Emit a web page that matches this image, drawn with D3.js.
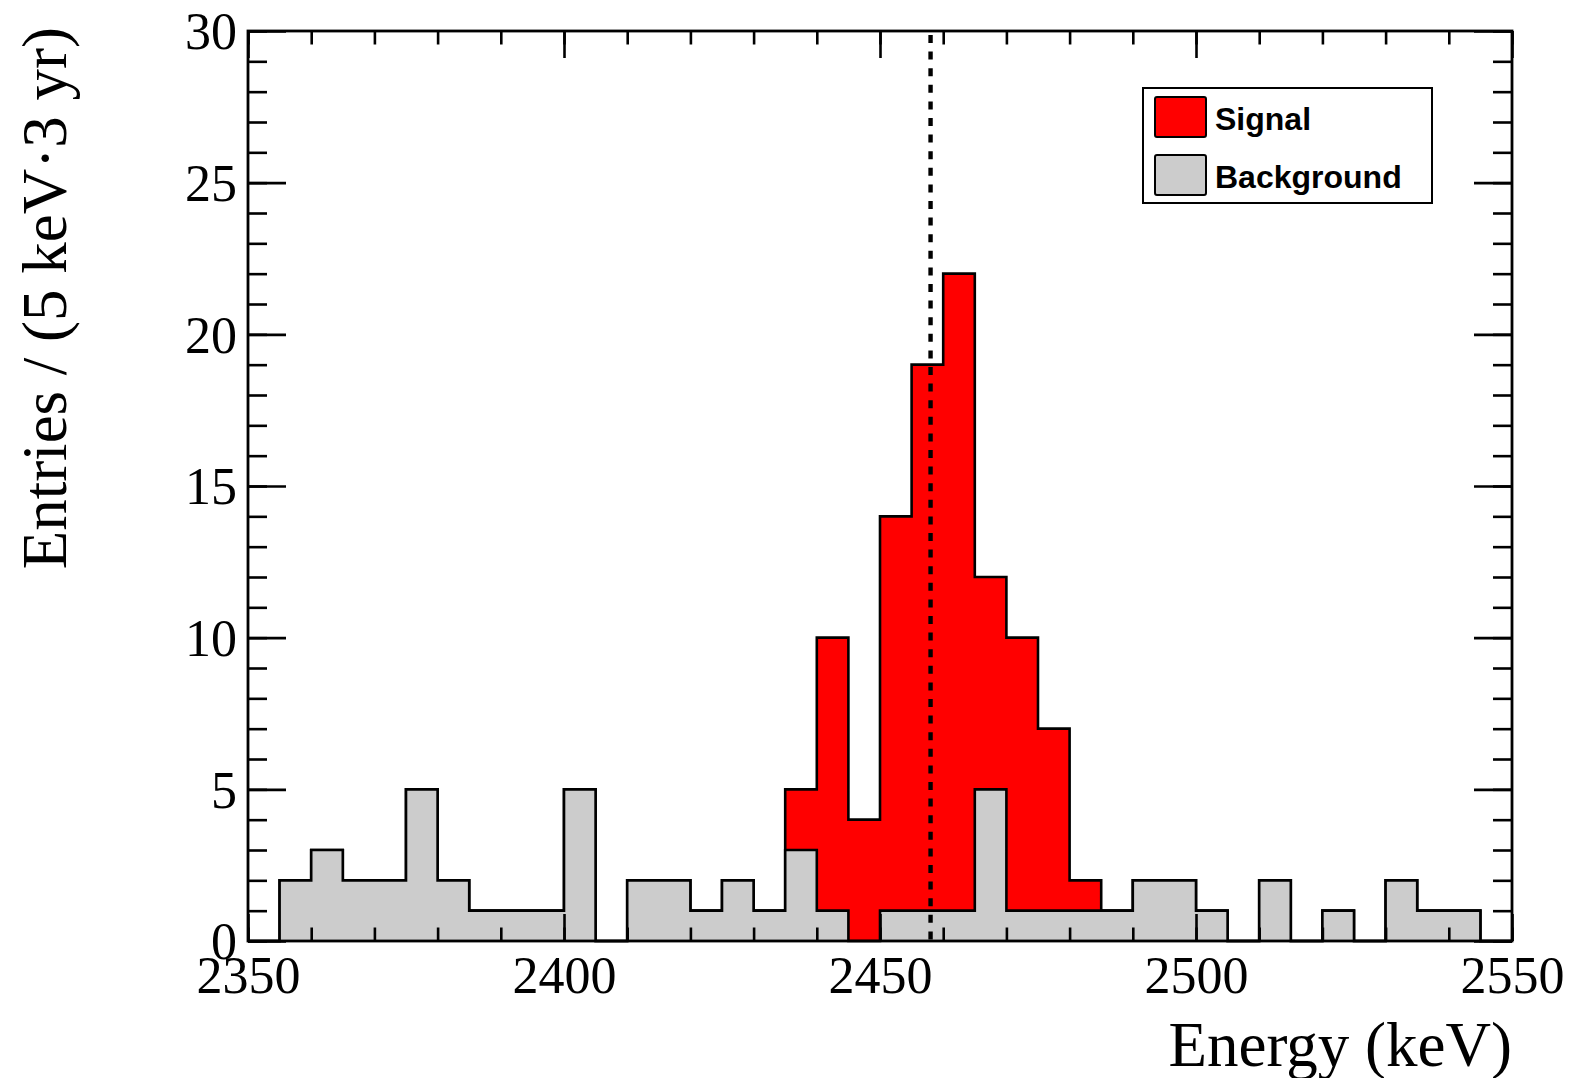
<!DOCTYPE html>
<html>
<head>
<meta charset="utf-8">
<script src="https://cdn.jsdelivr.net/npm/d3@7"></script>
<style>
  html, body { margin: 0; padding: 0; background: #fff; }
  svg { display: block; }
</style>
</head>
<body>
<svg id="chart" width="1569" height="1078"></svg>
<script>
// Lower edges of the 5 keV energy bins (keV)
const binLow = [2350, 2355, 2360, 2365, 2370, 2375, 2380, 2385, 2390, 2395,
                2400, 2405, 2410, 2415, 2420, 2425, 2430, 2435, 2440, 2445,
                2450, 2455, 2460, 2465, 2470, 2475, 2480, 2485, 2490, 2495,
                2500, 2505, 2510, 2515, 2520, 2525, 2530, 2535, 2540, 2545];
const binWidth = 5;

// Entries per bin
const background = [0, 2, 3, 2, 2, 5, 2, 1, 1, 1,
                    5, 0, 2, 2, 1, 2, 1, 3, 1, 0,
                    1, 1, 1, 5, 1, 1, 1, 1, 2, 2,
                    1, 0, 2, 0, 1, 0, 2, 1, 1, 0];
const signal     = [0, 0, 0, 0, 0, 0, 0, 0, 0, 0,
                    0, 0, 0, 0, 0, 0, 0, 2, 9, 4,
                    13, 18, 21, 7, 9, 6, 1, 0, 0, 0,
                    0, 0, 0, 0, 0, 0, 0, 0, 0, 0];

const qValue = 2458;            // dashed reference line (keV)
const xTicks = [2350, 2400, 2450, 2500, 2550];
const yTicks = [0, 5, 10, 15, 20, 25, 30];
const legendItems = [
  { label: "Signal", color: "#ff0000" },
  { label: "Background", color: "#cccccc" }
];

const svg = d3.select("#chart");
const L = 248, R = 1512, T = 31, B = 941;

const x = d3.scaleLinear().domain([2350, 2550]).range([L, R]);
const y = d3.scaleLinear().domain([0, 30]).range([B, T]);

// Step outline points for a histogram
function steps(values) {
  const pts = [];
  binLow.forEach((lo, i) => {
    pts.push({ e: lo, v: values[i] });
    pts.push({ e: lo + binWidth, v: values[i] });
  });
  return pts;
}

const total = background.map((b, i) => b + signal[i]);

const area = d3.area().x(d => x(d.e)).y0(y(0)).y1(d => y(d.v));
const line = d3.line().x(d => x(d.e)).y(d => y(d.v));

const hist = svg.append("g");
// stacked: total (signal on top) first, background over it
[[total, "#ff0000"], [background, "#cccccc"]].forEach(([vals, col]) => {
  const pts = steps(vals);
  hist.append("path").attr("d", area(pts)).attr("fill", col);
  hist.append("path").attr("d", line(pts))
    .attr("fill", "none").attr("stroke", "#000").attr("stroke-width", 2.6)
    .attr("stroke-linejoin", "miter");
});

// Q-value marker
svg.append("line")
  .attr("x1", x(qValue)).attr("x2", x(qValue))
  .attr("y1", y(30) + 4).attr("y2", y(0))
  .attr("stroke", "#000").attr("stroke-width", 4.4)
  .attr("stroke-dasharray", "8,8.6");

// Axes: ticks pointing inward on all four sides
const serif = "'Liberation Serif', 'Times New Roman', serif";
const tickStroke = 2.6;

function styleAxis(g) {
  g.select(".domain").remove();
  g.selectAll("line").attr("stroke", "#000").attr("stroke-width", tickStroke);
}

const xMinor = d3.range(0, 21).map(i => 2350 + 10 * i);
const yMinor = d3.range(0, 31);

// bottom
svg.append("g").attr("transform", `translate(0,${B})`)
  .call(d3.axisBottom(x).tickValues(xMinor).tickSize(-13.5).tickFormat(""))
  .call(styleAxis);
const xb = svg.append("g").attr("transform", `translate(0,${B})`)
  .call(d3.axisBottom(x).tickValues(xTicks).tickSize(-27).tickFormat(d3.format("d")))
  .call(styleAxis);
xb.selectAll("text")
  .attr("y", 52).attr("dy", null)
  .attr("font-family", serif).attr("font-size", 52).attr("fill", "#000");

// top
svg.append("g").attr("transform", `translate(0,${T})`)
  .call(d3.axisTop(x).tickValues(xMinor).tickSize(-13.5).tickFormat(""))
  .call(styleAxis);
svg.append("g").attr("transform", `translate(0,${T})`)
  .call(d3.axisTop(x).tickValues(xTicks).tickSize(-27).tickFormat(""))
  .call(styleAxis);

// left
svg.append("g").attr("transform", `translate(${L},0)`)
  .call(d3.axisLeft(y).tickValues(yMinor).tickSize(-19).tickFormat(""))
  .call(styleAxis);
const yl = svg.append("g").attr("transform", `translate(${L},0)`)
  .call(d3.axisLeft(y).tickValues(yTicks).tickSize(-38).tickPadding(11).tickFormat(d3.format("d")))
  .call(styleAxis);
yl.selectAll("text")
  .attr("dy", "0.34em")
  .attr("font-family", serif).attr("font-size", 52).attr("fill", "#000");

// right
svg.append("g").attr("transform", `translate(${R},0)`)
  .call(d3.axisRight(y).tickValues(yMinor).tickSize(-19).tickFormat(""))
  .call(styleAxis);
svg.append("g").attr("transform", `translate(${R},0)`)
  .call(d3.axisRight(y).tickValues(yTicks).tickSize(-38).tickFormat(""))
  .call(styleAxis);

// frame
svg.append("rect")
  .attr("x", L).attr("y", T).attr("width", R - L).attr("height", B - T)
  .attr("fill", "none").attr("stroke", "#000").attr("stroke-width", 2.8);

// axis titles
svg.append("text")
  .attr("x", R).attr("y", 1066)
  .attr("text-anchor", "end")
  .attr("font-family", serif).attr("font-size", 63).attr("fill", "#000")
  .text("Energy (keV)");

svg.append("text")
  .attr("transform", "translate(66,27) rotate(-90)")
  .attr("text-anchor", "end")
  .attr("font-family", serif).attr("font-size", 63).attr("fill", "#000")
  .text("Entries / (5 keV\u00B73 yr)");

// legend
const lg = svg.append("g");
lg.append("rect")
  .attr("x", 1143).attr("y", 88).attr("width", 289).attr("height", 115)
  .attr("fill", "#fff").attr("stroke", "#000").attr("stroke-width", 2);
legendItems.forEach((d, i) => {
  const yy = 97 + i * 58;
  lg.append("rect")
    .attr("x", 1155).attr("y", yy).attr("width", 51).attr("height", 40)
    .attr("rx", 2).attr("fill", d.color).attr("stroke", "#000").attr("stroke-width", 2);
  lg.append("text")
    .attr("x", 1215).attr("y", yy + 33)
    .attr("font-family", "'Liberation Sans', Arial, sans-serif")
    .attr("font-weight", "bold").attr("font-size", 32).attr("fill", "#000")
    .text(d.label);
});
</script>
</body>
</html>
